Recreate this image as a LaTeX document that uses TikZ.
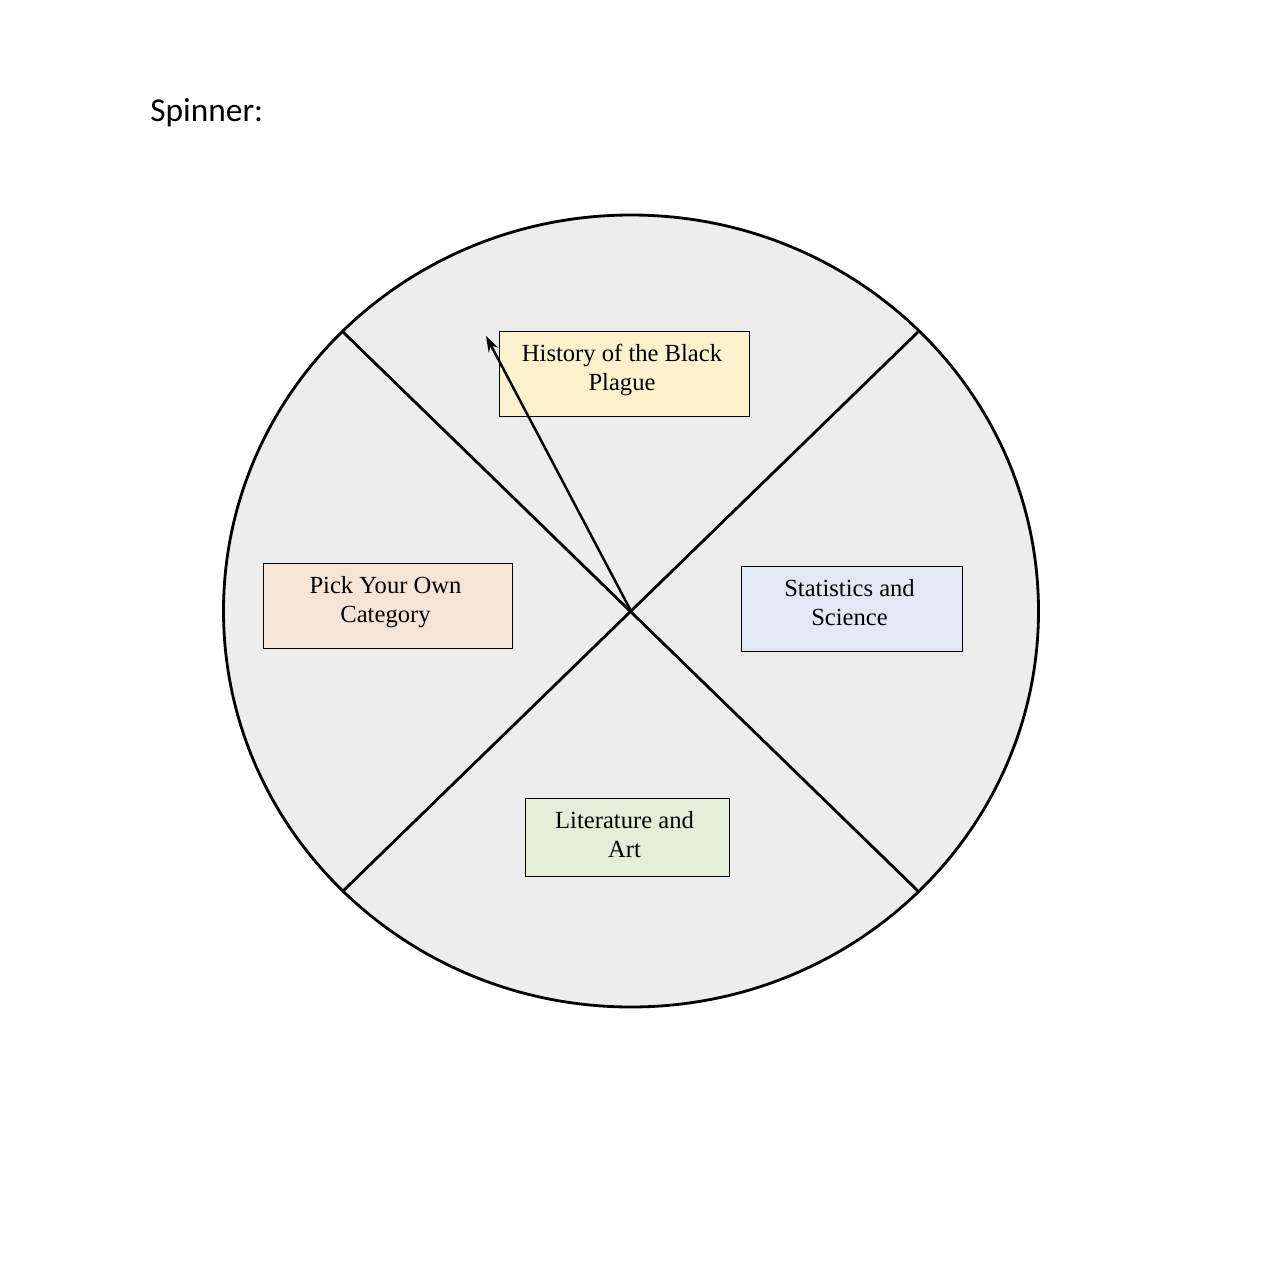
\documentclass[tikz,border=0pt]{standalone}
\usepackage{fontspec}
\usetikzlibrary{arrows.meta}
\setmainfont{Liberation Serif}
\newfontfamily\calfont{Carlito}
\begin{document}
\begin{tikzpicture}[x=0.02cm,y=-0.02cm,
  catbox/.style={draw=black, line width=0.5pt, inner sep=0pt},
  cattext/.style={inner sep=0pt, font=\fontsize{14}{16.5}\selectfont, align=center},
  thick line/.style={line width=1.6pt},
  ]
\useasboundingbox (0,0) rectangle (1275,1274);
\fill[white] (0,0) rectangle (1275,1274);
\node[anchor=base west, inner sep=0pt, font=\calfont\fontsize{19}{22}\selectfont] (title) at (150,122) {Spinner:};
\coordinate (c) at (631,611);
\draw[thick line, fill={rgb,255:red,237;green,237;blue,237}] (c) ellipse [x radius=407.5, y radius=396];
\coordinate (nw) at (343,332);
\coordinate (ne) at (918,332);
\coordinate (sw) at (343,891);
\coordinate (se) at (918,891);
\draw[thick line] (nw) -- (se);
\draw[thick line] (ne) -- (sw);
\node[catbox, fill={rgb,255:red,252;green,242;blue,206}, minimum width=250*0.02cm, minimum height=85*0.02cm] (hist) at (624,373.5) {};
\node[cattext] (histtxt) at (622,369.5) {History of the Black\\Plague};
\node[catbox, fill={rgb,255:red,246;green,228;blue,215}, minimum width=249*0.02cm, minimum height=85*0.02cm] (pick) at (387.5,605.5) {};
\node[cattext] (picktxt) at (385.5,602.5) {Pick Your Own\\Category};
\node[catbox, fill={rgb,255:red,226;green,233;blue,245}, minimum width=221*0.02cm, minimum height=85*0.02cm] (stat) at (851.5,608.5) {};
\node[cattext] (stattxt) at (849.5,603) {Statistics and\\Science};
\node[catbox, fill={rgb,255:red,227;green,239;blue,217}, minimum width=204*0.02cm, minimum height=78*0.02cm] (lit) at (627,837) {};
\node[cattext] (littxt) at (624.5,835) {Literature and\\Art};
\coordinate (tip) at (486,336);
\draw[line width=1.4pt, -{Stealth[length=9pt,width=6pt]}] (c) -- (tip);
\end{tikzpicture}
\end{document}
